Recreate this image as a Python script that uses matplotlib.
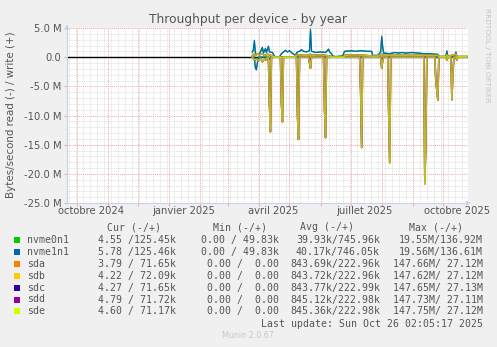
import numpy as np
import matplotlib
matplotlib.use("Agg")
import matplotlib.pyplot as plt
import matplotlib.dates as mdates
from matplotlib.ticker import MultipleLocator

W, H = 497, 347

# time window of the munin "year" graph
t_start = np.datetime64("2024-09-21T02:05")
t_end = np.datetime64("2025-10-26T02:05")
DAY0 = np.datetime64("2025-04-01")   # data days are counted from here

# --- nvme write (+), MB/s, daily averages ---
nvme_w_day = [-7, -6, -5, -4, -2, 0, 2, 3, 4, 6, 7, 9, 10, 13, 15, 16, 20, 22, 24,
              26, 28, 30, 32, 34, 36, 38, 40, 42, 44, 47, 50, 51, 52, 56, 61, 66,
              69, 70, 72, 73, 76, 83, 85, 90, 96, 101, 108, 112, 113, 118, 121,
              122, 123, 124, 130, 135, 139, 142, 146, 152, 158, 164, 170, 176,
              178, 179, 186, 187, 188, 195, 196, 197, 207]
nvme1n1_w = [0.9, 1.3, 2.9, 0.7, 0.5, 0.6, 1.3, 1.7, 0.7, 1.5, 0.8, 1.9, 0.9, 0.8,
             0.2, 0.05, 0.05, 0.6, 0.9, 1.2, 0.9, 1.1, 0.8, 0.5, 0.4, 0.9, 1.0,
             1.3, 1.0, 0.9, 1.1, 4.8, 1.0, 0.8, 0.9, 0.8, 1.4, 0.9, 0.6, 0.2, 0.1,
             0.2, 1.0, 1.1, 1.0, 1.1, 1.0, 1.0, 0.3, 0.3, 0.9, 3.6, 1.8, 0.7, 0.6,
             0.8, 0.7, 0.8, 0.7, 0.8, 0.7, 0.6, 0.6, 0.5, 0.5, 0.1, 0.1, 1.1, 0.1,
             0.1, 0.9, 0.1, 0.1]
nvme0n1_w = [0.9, 1.2, 2.6, 0.7, 0.5, 0.6, 1.2, 1.6, 0.7, 1.4, 0.8, 1.8, 0.9, 0.8,
             0.2, 0.05, 0.05, 0.6, 0.9, 1.1, 0.9, 1.1, 0.8, 0.5, 0.4, 0.9, 1.0,
             1.2, 1.0, 0.9, 1.1, 4.5, 1.0, 0.8, 0.9, 0.8, 1.3, 0.9, 0.6, 0.2, 0.1,
             0.2, 1.0, 1.1, 1.0, 1.1, 1.0, 1.0, 0.3, 0.3, 0.9, 3.3, 1.7, 0.7, 0.6,
             0.8, 0.7, 0.8, 0.7, 0.8, 0.7, 0.6, 0.6, 0.5, 0.5, 0.1, 0.1, 1.0, 0.1,
             0.1, 0.8, 0.1, 0.1]

# --- nvme read (-) ---
nvme_r_day = [-7, -5, -4, -3, -2, -1, 9, 10, 11, 50, 51, 52, 121, 122, 123, 124, 207]
nvme1n1_r = [0, 0, -1.9, -2.2, -1.0, 0, 0, -0.4, 0, 0, -0.3, 0, 0, -0.8, -0.3, 0, 0]
nvme0n1_r = [0, 0, -1.7, -2.0, -0.9, 0, 0, -0.3, 0, 0, -0.2, 0, 0, -0.7, -0.3, 0, 0]

# --- sdX write (+), same pattern on all five disks ---
disk_w_day = [-7, -6, -4, -2, 0, 3, 5, 8, 10, 13, 16, 35, 36, 40, 44, 48, 51, 53, 60,
              66, 70, 73, 84, 85, 95, 105, 113, 118, 122, 124, 140, 160, 178, 180,
              186, 187, 188, 196, 197, 207]
disk_w = [0.2, 0.5, 0.3, 0.6, 0.4, 0.6, 0.3, 0.5, 0.4, 0.2, 0.0, 0.0, 0.3, 0.4, 0.3,
          0.3, 0.5, 0.3, 0.4, 0.3, 0.2, 0.0, 0.0, 0.3, 0.4, 0.3, 0.2, 0.2, 0.5, 0.3,
          0.3, 0.3, 0.3, 0.1, 0.1, 0.4, 0.1, 0.5, 0.1, 0.1]

# --- sdX read (-) ---
disk_r_day = [-7, -5, -3, -1, 1, 3, 5, 7, 8, 9, 10, 11, 12, 21, 22, 23, 24, 37, 38,
              39, 40, 49, 50, 51, 52, 64, 65, 66, 67, 100, 101, 102, 103, 121, 122,
              123, 124, 128, 129, 130, 131, 164, 165, 166, 167, 175, 176, 178, 179,
              186, 187, 188, 191, 192, 193, 194, 196, 197, 198, 207]
disk_r = [0, -0.5, -0.3, -0.6, -0.2, -0.8, -0.3, -0.5, 0, 0, -8.0, -12.8, 0, 0,
          -8.0, -11.1, 0, 0, -10.0, -14.1, 0, 0, -1.0, -1.9, 0, 0, -9.1, -13.8, 0,
          0, -6.0, -15.5, 0, 0, -1.9, -0.6, 0, 0, -10.0, -18.1, 0, 0, -21.7, -15.0,
          0, 0, -4.0, -7.4, 0, 0, -0.5, 0, 0, -7.3, -3.0, 0, 0, -0.5, 0, 0]

# --- legend ---
names = ["nvme0n1", "nvme1n1", "sda", "sdb", "sdc", "sdd", "sde"]
colors = ["#00cc00", "#0066b3", "#ff8000", "#ffcc00", "#330099", "#990099", "#ccff00"]
cur = ["4.55 /125.45k", "5.78 /125.46k", "3.79 / 71.65k", "4.22 / 72.09k",
       "4.27 / 71.65k", "4.79 / 71.72k", "4.60 / 71.17k"]
mins = ["0.00 / 49.83k", "0.00 / 49.83k", "0.00 /  0.00", "0.00 /  0.00",
        "0.00 /  0.00", "0.00 /  0.00", "0.00 /  0.00"]
avgs = ["39.93k/745.96k", "40.17k/746.05k", "843.69k/222.96k", "843.72k/222.96k",
        "843.77k/222.99k", "845.12k/222.98k", "845.36k/222.98k"]
maxs = ["19.55M/136.92M", "19.56M/136.61M", "147.66M/ 27.12M", "147.62M/ 27.12M",
        "147.65M/ 27.13M", "147.73M/ 27.11M", "147.75M/ 27.12M"]


def days(d):
    return DAY0 + np.array(d, dtype="timedelta64[D]")


series = [
    (nvme_r_day, nvme0n1_r, nvme_w_day, nvme0n1_w),
    (nvme_r_day, nvme1n1_r, nvme_w_day, nvme1n1_w),
] + [(disk_r_day, disk_r, disk_w_day, disk_w)] * 5

fig = plt.figure(figsize=(W / 100, H / 100), dpi=100, facecolor="#f0f0f0")
ax = fig.add_axes([67 / W, 1 - 203 / H, (468 - 67) / W, (203 - 28) / H])
ax.set_facecolor("white")

# grid
ax.set_xlim(t_start, t_end)
ax.set_ylim(-25, 5)
ax.xaxis.set_major_locator(mdates.MonthLocator())
ax.xaxis.set_minor_locator(mdates.WeekdayLocator(byweekday=mdates.MO))
ax.yaxis.set_major_locator(MultipleLocator(5))
ax.yaxis.set_minor_locator(MultipleLocator(1))
ax.grid(which="minor", color="#d8d8d8", linestyle=(0, (1, 1)), linewidth=0.6)
ax.grid(which="major", color="#f0a8a8", linestyle=(0, (1, 1)), linewidth=0.7)
ax.set_axisbelow(True)
ax.axhline(0, color="black", linewidth=1.0, zorder=2)

for (rd, rv, wd, wv), c in zip(series, colors):
    nvme = c in ("#00cc00", "#0066b3")
    alpha = 1.0 if nvme else 0.72
    lw = 0.9 if nvme else 1.1
    ax.plot(days(rd), rv, color=c, linewidth=lw, alpha=alpha, zorder=3)
    ax.plot(days(wd), wv, color=c, linewidth=lw, alpha=alpha, zorder=3)

# ticks and labels
ax.xaxis.set_major_formatter(plt.NullFormatter())
for lab, d in [("octobre 2024", "2024-10-15"), ("janvier 2025", "2025-01-15"),
               ("avril 2025", "2025-04-15"), ("juillet 2025", "2025-07-15"),
               ("octobre 2025", "2025-10-15")]:
    ax.text(np.datetime64(d), -25.5, lab, ha="center", va="top", fontsize=7.2,
            color="#555555")
ax.set_yticks([5, 0, -5, -10, -15, -20, -25])
ax.set_yticklabels(["5.0 M", "0.0", "-5.0 M", "-10.0 M", "-15.0 M", "-20.0 M", "-25.0 M"])
ax.tick_params(axis="y", which="major", labelsize=7.2, labelcolor="#555555",
               length=2, color="#f0a8a8", pad=2)
ax.tick_params(axis="x", which="major", length=2, color="#f0a8a8")
ax.tick_params(which="minor", length=0)

for s in ("top", "right"):
    ax.spines[s].set_visible(False)
for s in ("left", "bottom"):
    ax.spines[s].set_color("#c8d0ec")
    ax.spines[s].set_linewidth(0.8)
ax.annotate("", xy=(1.014, 0), xytext=(0.99, 0), xycoords="axes fraction",
            arrowprops=dict(arrowstyle="-|>", color="#c8d0ec", lw=0.8,
                            mutation_scale=6), annotation_clip=False)
ax.annotate("", xy=(0, 1.035), xytext=(0, 0.99), xycoords="axes fraction",
            arrowprops=dict(arrowstyle="-|>", color="#c8d0ec", lw=0.8,
                            mutation_scale=6), annotation_clip=False)


def ft(x, y, s, **kw):
    fig.text(x / W, 1 - y / H, s, **kw)


ft(248, 19, "Throughput per device - by year", ha="center", va="center",
   fontsize=8.8, color="#555555")
ft(11, 115, "Bytes/second read (-) / write (+)", ha="center", va="center",
   rotation=90, fontsize=7.4, color="#555555")
ft(487, 55, "RRDTOOL / TOBI OETIKER", ha="center", va="center", rotation=270,
   fontsize=5.3, color="#c4c4c4")

mono = dict(family="DejaVu Sans Mono", fontsize=7.1, color="#555555", va="center")
ft(107, 227, "Cur (-/+)", ha="left", **mono)
ft(213, 227, "Min (-/+)", ha="left", **mono)
ft(300, 227, "Avg (-/+)", ha="left", **mono)
ft(409, 227, "Max (-/+)", ha="left", **mono)
for i, (n, c) in enumerate(zip(names, colors)):
    y = 240 + i * 11.9
    fig.patches.append(plt.Rectangle((14 / W, 1 - (y + 3) / H), 6 / W, 6 / H,
                                     transform=fig.transFigure, facecolor=c,
                                     edgecolor="none"))
    ft(27, y, n, ha="left", **mono)
    ft(176, y, cur[i], ha="right", **mono)
    ft(279, y, mins[i], ha="right", **mono)
    ft(380, y, avgs[i], ha="right", **mono)
    ft(483, y, maxs[i], ha="right", **mono)
ft(483, 324, "Last update: Sun Oct 26 02:05:17 2025", ha="right", **mono)
ft(248, 336, "Munin 2.0.67", ha="center", va="center", fontsize=5.8,
   color="#c8c8c8")

fig.savefig("out.png", dpi=100, facecolor=fig.get_facecolor())
